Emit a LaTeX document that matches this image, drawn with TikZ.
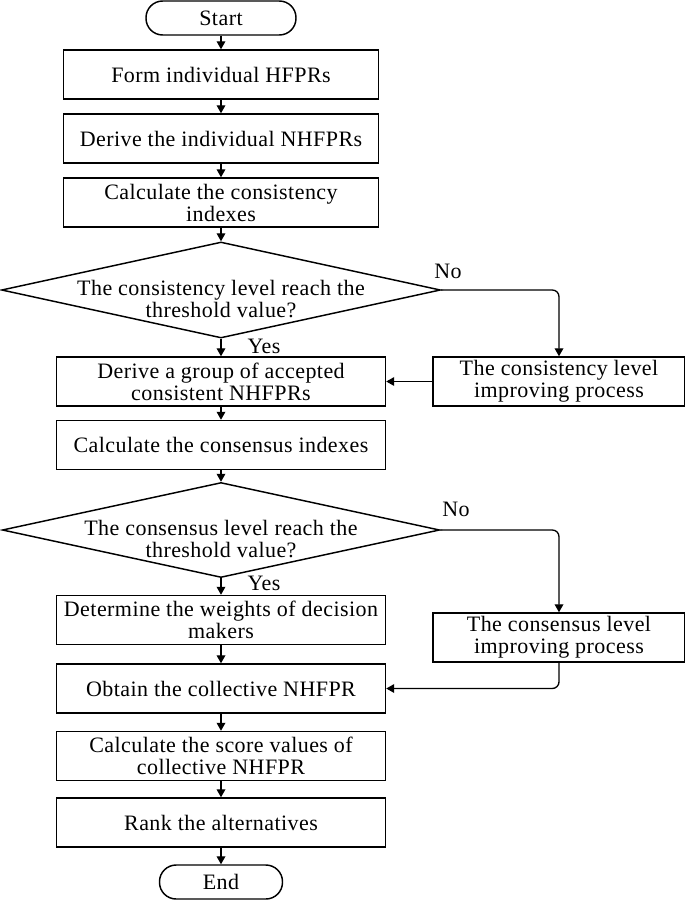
\documentclass[tikz,border=0pt]{standalone}
\usepackage{fontspec}
\setmainfont{Liberation Serif}[LetterSpace=2]
\usetikzlibrary{shapes.geometric,arrows.meta}
\begin{document}
\begin{tikzpicture}[x=0.75pt,y=-0.75pt,
  font=\fontsize{16.5}{16.5}\selectfont,
  every node/.style={inner sep=0pt},
  boxa/.style={draw, line width=1.1pt, minimum width=236.25pt, minimum height=36.75pt, align=center},
  boxb/.style={draw, line width=1.1pt, minimum width=246.75pt, minimum height=36.75pt, align=center},
  rbox/.style={draw, line width=1.1pt, minimum width=189pt, minimum height=36.75pt, align=center},
  term/.style={draw, line width=1.1pt, rounded corners=12.5pt, minimum height=25.5pt, align=center},
  decision/.style={draw, line width=1.1pt, diamond, aspect=4.5},
  arr/.style={-{Triangle[length=6pt,width=6.5pt]}, line width=1pt},
  lbl/.style={font=\fontsize{16.5}{16.5}\selectfont}
]
\useasboundingbox (0,0) rectangle (685,900);

\node[term, minimum width=112.5pt] (start) at (221,18) {Start};
\node[boxa] (b1) at (221,74.5) {Form individual HFPRs};
\node[boxa] (b2) at (221,138.5) {Derive the individual NHFPRs};
\node[boxa] (b3) at (221,202.5) {Calculate the consistency\\indexes};
\node[decision, minimum width=329.25pt, minimum height=72pt] (d1) at (221,290) {};
\node[align=center] (d1t) at (221,299) {The consistency level reach the\\threshold value?};
\node[boxb] (b4) at (221,381.5) {Derive a group of accepted\\consistent NHFPRs};
\node[rbox] (r1) at (559,381.5) {The consistency level\\improving process};
\node[boxb] (b5) at (221,445) {Calculate the consensus indexes};
\node[decision, minimum width=328pt, minimum height=71.25pt] (d2) at (221,530) {};
\node[align=center] (d2t) at (221,539) {The consensus level reach the\\threshold value?};
\node[boxb] (b6) at (221,620) {Determine the weights of decision\\makers};
\node[rbox] (r2) at (559,637.5) {The consensus level\\improving process};
\node[boxb] (b7) at (221,688.5) {Obtain the collective NHFPR};
\node[boxb] (b8) at (221,756) {Calculate the score values of\\collective NHFPR};
\node[boxb] (b9) at (221,822.5) {Rank the alternatives};
\node[term, minimum width=92.25pt] (end) at (221,882) {End};

\node[lbl] (no1) at (448,271) {No};
\node[lbl] (yes1) at (264,346) {Yes};
\node[lbl] (no2) at (456,509) {No};
\node[lbl] (yes2) at (264,583) {Yes};

\draw[arr] (start) -- (b1);
\draw[arr] (b1) -- (b2);
\draw[arr] (b2) -- (b3);
\draw[arr] (b3) -- (d1.north);
\draw[arr] (d1.south) -- (b4);
\draw[arr, rounded corners=5pt] (d1.east) -| (r1.north);
\draw[arr] (r1.west) -- (b4.east);
\draw[arr] (b4) -- (b5);
\draw[arr] (b5) -- (d2.north);
\draw[arr] (d2.south) -- (b6);
\draw[arr, rounded corners=5pt] (d2.east) -| (r2.north);
\draw[arr] (b6) -- (b7);
\draw[arr, rounded corners=5pt] (r2.south) |- (b7.east);
\draw[arr] (b7) -- (b8);
\draw[arr] (b8) -- (b9);
\draw[arr] (b9) -- (end);
\end{tikzpicture}
\end{document}
